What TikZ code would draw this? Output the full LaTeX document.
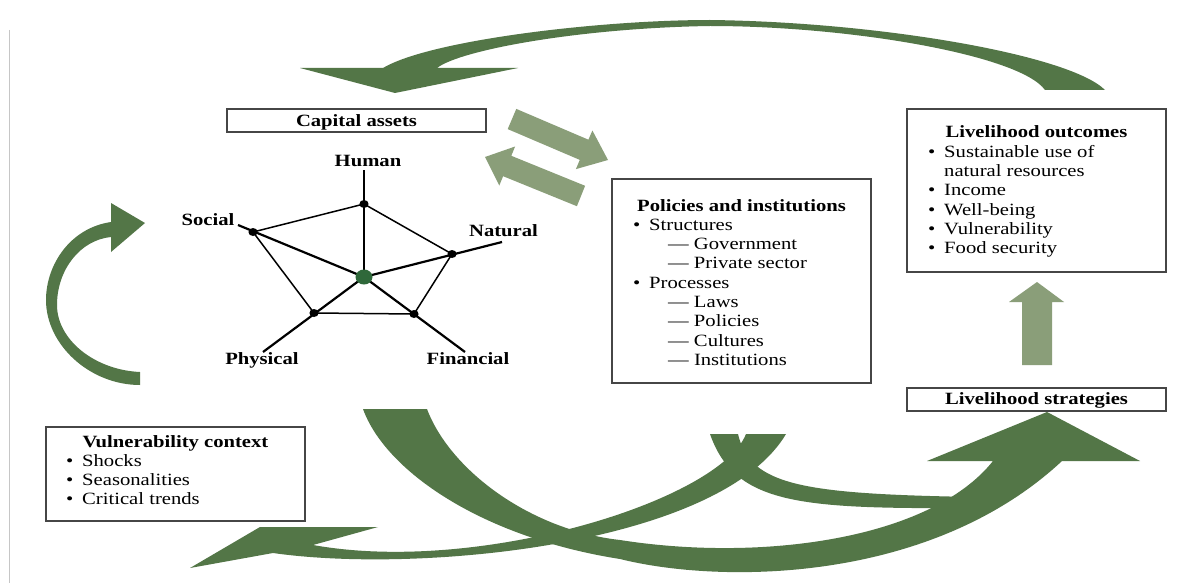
\documentclass[tikz,border=0pt]{standalone}
\usepackage{fontspec}
\setmainfont{Liberation Serif}[FakeStretch=1.2]
\definecolor{swoosh}{RGB}{83,118,71}
\definecolor{palearrow}{RGB}{138,158,121}
\definecolor{hubgreen}{RGB}{47,104,58}
\definecolor{boxline}{RGB}{70,70,70}
\newcommand{\bul}[1]{\makebox[16pt][l]{\textbullet}#1}
\newcommand{\dsh}[1]{\hspace*{35pt}\textemdash\ #1}
\begin{document}
\begin{tikzpicture}[x=1pt,y=-1pt,
  box/.style={draw=boxline, line width=1.3pt, inner sep=0pt, outer sep=0pt, minimum width=259pt},
  title/.style={anchor=base, inner sep=0pt, font=\fontsize{17.2}{19.3}\selectfont\bfseries},
  list/.style={anchor=base west, inner sep=0pt, font=\fontsize{17.2}{19.3}\selectfont},
  axisline/.style={line width=2.2pt, black},
  rimline/.style={line width=1.5pt, black},
  vertexdot/.style={fill=black},
  bigarrow/.style={fill=swoosh},
  smallarrow/.style={fill=palearrow}]

\useasboundingbox (0,0) rectangle (1193,583);
\fill[white] (0,0) rectangle (1193,583);
\draw[gray!45, line width=1pt] (9,30) -- (9,583);

% ---------- boxes ----------
\node[box, minimum height=23pt]  (capbox) at (356.5,120.5) {};
\node[box, minimum height=204pt] (polbox) at (741.5,281) {};
\node[box, minimum height=163pt] (outbox) at (1036.5,190.5) {};
\node[box, minimum height=23pt]  (strbox) at (1036.5,399.5) {};
\node[box, minimum height=94pt]  (vulbox) at (175.5,474) {};

\node[title] (captitle) at (356.5,126) {Capital assets};
\node[title] (strtitle) at (1036.5,404.5) {Livelihood strategies};

\node[title] (poltitle) at (741.5,211) {Policies and institutions};
\node[list] (pollist) at (633,230.3) {\parbox[t]{230pt}{%
  \bul{Structures}\\
  \dsh{Government}\\
  \dsh{Private sector}\\
  \bul{Processes}\\
  \dsh{Laws}\\
  \dsh{Policies}\\
  \dsh{Cultures}\\
  \dsh{Institutions}}};

\node[title] (outtitle) at (1036.5,138) {Livelihood outcomes};
\node[list] (outlist) at (928,157.3) {\parbox[t]{230pt}{%
  \bul{Sustainable use of}\\
  \hspace*{16pt}natural resources\\
  \bul{Income}\\
  \bul{Well-being}\\
  \bul{Vulnerability}\\
  \bul{Food security}}};

\node[title] (vultitle) at (175.5,447) {Vulnerability context};
\node[list] (vullist) at (66,466.3) {\parbox[t]{230pt}{%
  \bul{Shocks}\\
  \bul{Seasonalities}\\
  \bul{Critical trends}}};

% ---------- asset pentagon ----------
\coordinate (ctr) at (364,277);
\coordinate (vH) at (364,204); \coordinate (eH) at (364,170);
\coordinate (vS) at (253,232); \coordinate (eS) at (238,225);
\coordinate (vN) at (452,254); \coordinate (eN) at (502,242);
\coordinate (vF) at (414,314); \coordinate (eF) at (465,352);
\coordinate (vP) at (314,313); \coordinate (eP) at (263,352);

\draw[rimline, line join=round] (vH) -- (vN) -- (vF) -- (vP) -- (vS) -- cycle;
\foreach \e in {eH,eS,eN,eF,eP} \draw[axisline] (ctr) -- (\e);
\foreach \v in {vH,vS,vN,vF,vP} \fill[vertexdot] (\v) ellipse [x radius=4.6pt, y radius=4pt];
\fill[hubgreen] (ctr) ellipse [x radius=8.5pt, y radius=7.5pt];

\node[title] (lhuman) at (368,166.7) {Human};
\node[title] (lsocial) at (208,225) {Social};
\node[title] (lnatural) at (503.5,236.7) {Natural};
\node[title] (lphysical) at (262,364) {Physical};
\node[title] (lfinancial) at (468,364) {Financial};

% ---------- pale exchange arrows ----------
\fill[smallarrow] (516.3,108.9) -- (588.4,139.7) -- (592.4,130.5) -- (608,160)
  -- (575.9,169.1) -- (579.8,159.9) -- (507.7,129.1) -- cycle;
\fill[smallarrow] (585.1,185.8) -- (511.3,155.8) -- (515.1,146.5) -- (485,157)
  -- (499.3,185.5) -- (503.1,176.2) -- (576.9,206.2) -- cycle;
\fill[smallarrow] (1022,365) -- (1022,302) -- (1009,302) -- (1037,282)
  -- (1064,302) -- (1052,302) -- (1052,365) -- cycle;

% ---------- feedback swooshes ----------
% top: outcomes back to capital assets
\fill[bigarrow] (1105,90) .. controls (1070,55) and (880,22) .. (710,20)
  .. controls (600,20) and (430,40) .. (383,68)
  -- (300,68) -- (395,93) -- (518,68) -- (437,68)
  .. controls (460,50) and (580,28) .. (710,26)
  .. controls (850,26) and (1020,55) .. (1045,90) -- cycle;

% left: vulnerability context towards the assets
\fill[bigarrow] (111,203) -- (145,223) -- (111,252) -- (111,237)
  .. controls (80,240) and (57,270) .. (57,305)
  .. controls (57,340) and (95,370) .. (140,372)
  -- (140,385)
  .. controls (90,385) and (46,345) .. (46,300)
  .. controls (46,265) and (70,228) .. (111,222) -- cycle;

% bottom: assets to livelihood strategies
\fill[bigarrow] (363,409) .. controls (385,470) and (480,537) .. (620,559)
  .. controls (720,584) and (930,584) .. (1062,461)
  -- (1140,461) -- (1047,412) -- (927,461) -- (993,461)
  .. controls (930,540) and (760,562) .. (620,540)
  .. controls (530,530) and (450,470) .. (427,409) -- cycle;

% policies feeding the strategies
\fill[bigarrow] (710,434) -- (738,434) .. controls (750,485) and (800,494) .. (975,497)
  -- (975,508) .. controls (800,509) and (735,505) .. (710,434) -- cycle;

% policies back to the vulnerability context
\fill[bigarrow] (746,434) .. controls (720,500) and (480,575) .. (313,545)
  -- (378,527) -- (260,527) -- (190,568) -- (273,553)
  .. controls (420,574) and (720,545) .. (786,434) -- cycle;

\end{tikzpicture}
\end{document}
